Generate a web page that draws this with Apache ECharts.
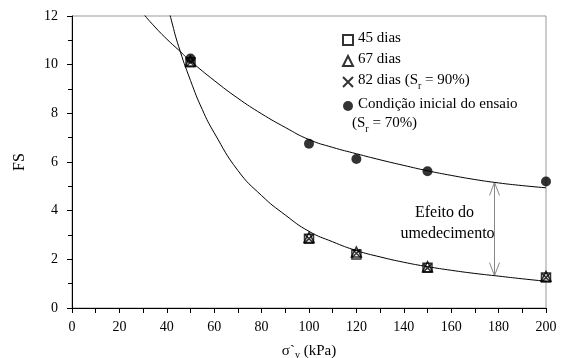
<!DOCTYPE html>
<html>
<head>
<meta charset="utf-8">
<script src="https://cdn.jsdelivr.net/npm/echarts@6/dist/echarts.min.js"></script>
<style>
html,body{margin:0;padding:0;background:#fff;}
#chart{width:561px;height:358px;}
</style>
</head>
<body>
<div id="chart"></div>
<script>
// ---- data ----
const stressX = [50, 100, 120, 150, 200];
const dias45 = [10.1, 2.85, 2.2, 1.65, 1.25];
const dias67 = [10.15, 2.9, 2.3, 1.7, 1.3];
const dias82 = [10.1, 2.85, 2.25, 1.65, 1.25];
const condInicial = [10.25, 6.75, 6.12, 5.62, 5.2];

// fitted trend lines
const upperFitX = [28, 30, 35, 40, 45, 50, 60, 70, 80, 90, 100, 110, 120, 130, 140, 150, 160, 170, 180, 190, 200];
const upperFitY = [12.35, 12.1, 11.55, 11.05, 10.6, 10.15, 9.35, 8.62, 7.98, 7.42, 6.92, 6.6, 6.34, 6.09, 5.86, 5.64, 5.45, 5.28, 5.14, 5.03, 4.94];
const lowerFitX = [38, 40, 42, 45, 50, 55, 60, 70, 80, 90, 100, 110, 120, 130, 140, 150, 160, 170, 180, 190, 200];
const lowerFitY = [13.5, 12.6, 11.8, 10.75, 9.35, 8.15, 7.2, 5.65, 4.62, 3.82, 3.15, 2.72, 2.36, 2.1, 1.88, 1.7, 1.55, 1.42, 1.31, 1.2, 1.1];

// annotation (double arrow between the two curves)
const arrowX = 178;
const arrowTop = 5.16;
const arrowBottom = 1.33;

const xTickLabels = [0, 20, 40, 60, 80, 100, 120, 140, 160, 180, 200];
const yTickLabels = [0, 2, 4, 6, 8, 10, 12];

const FONT = 'Liberation Serif';
const zip = (xs, ys) => xs.map((x, i) => [x, ys[i]]);

const chart = echarts.init(document.getElementById('chart'), null, {renderer: 'canvas'});

const rich = {
  n: {fontFamily: FONT, fontSize: 15, color: '#000', verticalAlign: 'bottom', padding: [0, 0, 3, 0]},
  s: {fontFamily: FONT, fontSize: 10, color: '#000', verticalAlign: 'bottom'}
};

const option = {
  animation: false,
  backgroundColor: '#fff',
  grid: {left: 72, right: 15, top: 16, bottom: 50, show: true, borderColor: '#999', borderWidth: 1,
         containLabel: false, outerBoundsMode: 'none'},
  xAxis: {
    type: 'value', min: xTickLabels[0], max: xTickLabels[xTickLabels.length - 1], interval: 20,
    name: 'σ`{s|v} (kPa)', nameLocation: 'middle', nameGap: 34,
    nameTextStyle: {fontFamily: FONT, fontSize: 15, color: '#000', rich: {s: {fontFamily: FONT, fontSize: 10, color: '#000', padding: [8, 0, 0, 0]}}},
    axisLine: {lineStyle: {color: '#000', width: 1}},
    axisTick: {show: true, inside: false, length: 5, lineStyle: {color: '#000'}},
    minorTick: {show: true, splitNumber: 2, length: 5, lineStyle: {color: '#000'}},
    axisLabel: {fontFamily: FONT, fontSize: 14, color: '#000', margin: 12},
    splitLine: {show: false}
  },
  yAxis: {
    type: 'value', min: yTickLabels[0], max: yTickLabels[yTickLabels.length - 1], interval: 2,
    name: 'FS', nameLocation: 'middle', nameGap: 44, nameRotate: 90,
    nameTextStyle: {fontFamily: FONT, fontSize: 16, color: '#000'},
    axisLine: {show: true, lineStyle: {color: '#000', width: 1}},
    axisTick: {show: true, inside: false, length: 5, lineStyle: {color: '#000'}},
    minorTick: {show: true, splitNumber: 2, length: 4, lineStyle: {color: '#000'}},
    axisLabel: {fontFamily: FONT, fontSize: 14, color: '#000', margin: 14},
    splitLine: {show: false}
  },
  legend: {
    orient: 'vertical', left: 337, top: 26, itemGap: 6, itemWidth: 10, itemHeight: 10,
    data: ['45 dias', '67 dias', '82 dias', 'Condição inicial do ensaio'],
    formatter: function (name) {
      if (name === '82 dias') return '{n|82 dias (S}{s|r}{n| = 90%)}';
      return '{n|' + name + '}';
    },
    textStyle: {fontFamily: FONT, fontSize: 15, color: '#000', rich: rich}
  },
  series: [
    {
      name: 'fit upper', type: 'line', data: zip(upperFitX, upperFitY), smooth: true, showSymbol: false,
      lineStyle: {color: '#000', width: 1}, clip: true, silent: true, z: 1
    },
    {
      name: 'fit lower', type: 'line', data: zip(lowerFitX, lowerFitY), smooth: true, showSymbol: false,
      lineStyle: {color: '#000', width: 1}, clip: true, silent: true, z: 1
    },
    {
      name: '45 dias', type: 'scatter', data: zip(stressX, dias45), symbol: 'rect', symbolSize: 9,
      itemStyle: {color: 'rgba(255,255,255,0)', borderColor: '#000', borderWidth: 1.5}, z: 3
    },
    {
      name: '67 dias', type: 'scatter', data: zip(stressX, dias67), symbol: 'triangle', symbolSize: 10,
      itemStyle: {color: 'rgba(255,255,255,0)', borderColor: '#000', borderWidth: 1.5}, z: 3
    },
    {
      name: '82 dias', type: 'scatter', data: zip(stressX, dias82), symbol: 'path://M0,0L10,10M10,0L0,10', symbolSize: 8,
      itemStyle: {color: 'rgba(255,255,255,0)', borderColor: '#000', borderWidth: 1.5}, z: 3
    },
    {
      name: 'Condição inicial do ensaio', type: 'scatter', data: zip(stressX, condInicial), symbol: 'circle', symbolSize: 10,
      itemStyle: {color: '#000'}, z: 4
    }
  ]
};
chart.setOption(option);

// annotation drawn through the library's coordinate conversion
const pTop = chart.convertToPixel({gridIndex: 0}, [arrowX, arrowTop]);
const pBot = chart.convertToPixel({gridIndex: 0}, [arrowX, arrowBottom]);
const ax = Math.round(pTop[0]) + 0.5;
const headL = 13, headW = 5;
const arrowStyle = {stroke: '#888', lineWidth: 1, fill: null};
chart.setOption({
  graphic: [
    {type: 'line', shape: {x1: ax, y1: pTop[1], x2: ax, y2: pBot[1]}, style: arrowStyle, silent: true},
    {type: 'polyline', shape: {points: [[ax - headW, pTop[1] + headL], [ax, pTop[1]], [ax + headW, pTop[1] + headL]]}, style: arrowStyle, silent: true},
    {type: 'polyline', shape: {points: [[ax - headW, pBot[1] - headL], [ax, pBot[1]], [ax + headW, pBot[1] - headL]]}, style: arrowStyle, silent: true},
    {type: 'text', x: ax - 50, y: 213, style: {text: 'Efeito do', fontFamily: FONT, fontSize: 16, fill: '#000', align: 'center', verticalAlign: 'middle'}, silent: true},
    {type: 'text', x: ax - 47, y: 234, style: {text: 'umedecimento', fontFamily: FONT, fontSize: 16, fill: '#000', align: 'center', verticalAlign: 'middle'}, silent: true},
    {type: 'text', x: 352, y: 125, style: {text: '{n|(S}{s|r}{n| = 70%)}', fontFamily: FONT, fontSize: 15, fill: '#000', verticalAlign: 'middle', rich: rich}, silent: true}
  ]
});
</script>
</body>
</html>
